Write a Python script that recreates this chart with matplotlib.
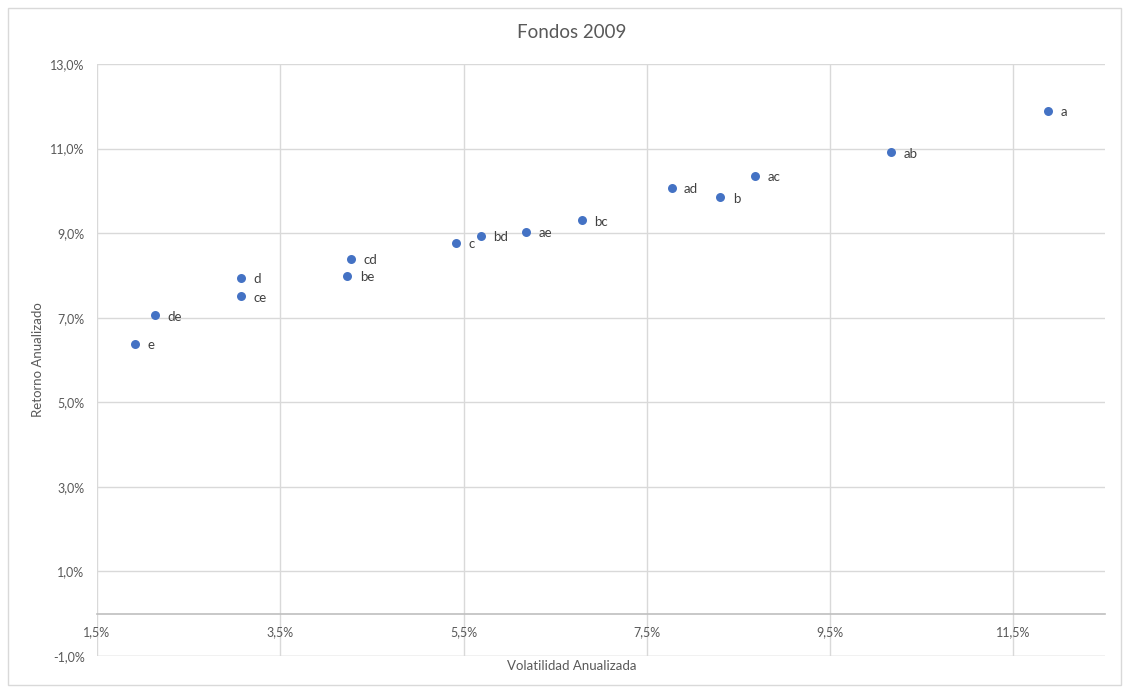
import matplotlib
matplotlib.use("Agg")
import matplotlib.pyplot as plt
from matplotlib.ticker import FuncFormatter, FixedLocator
from matplotlib.patches import Rectangle

# Fund portfolios: annualised volatility vs annualised return (%)
fondos = ["a", "ab", "ac", "ad", "b", "bc", "ae", "bd", "c", "cd", "be", "d", "ce", "de", "e"]
volatilidad = [11.88, 10.17, 8.68, 7.77, 8.30, 6.79, 6.18, 5.69, 5.42, 4.27, 4.23, 3.07, 3.07, 2.13, 1.91]
retorno = [11.90, 10.91, 10.35, 10.07, 9.85, 9.30, 9.03, 8.94, 8.77, 8.39, 7.99, 7.95, 7.51, 7.06, 6.38]

x_ticks = [1.5, 3.5, 5.5, 7.5, 9.5, 11.5]
y_ticks = [-1, 1, 3, 5, 7, 9, 11, 13]

plt.rcParams["font.family"] = ["Lato", "DejaVu Sans"]

W, H = 1129, 692
fig = plt.figure(figsize=(W / 100, H / 100), dpi=100)
ax = fig.add_axes([97 / W, 1 - 656 / H, (1105 - 97) / W, (656 - 64) / H])

# outer chart border
fig.patches.append(Rectangle((8 / W, 7 / H), (1121 - 8) / W, (685 - 8) / H,
                             transform=fig.transFigure, fill=False,
                             edgecolor="#d9d9d9", linewidth=1.0))

ax.scatter(volatilidad, retorno, s=42, color="#4472C4", zorder=3, linewidths=0)
for name, xv, yv in zip(fondos, volatilidad, retorno):
    ax.annotate(name, (xv, yv), xytext=(9, -1), textcoords="offset points",
                fontsize=9.5, color="#404040", va="center", ha="left")

ax.set_xlim(1.5, 12.5)
ax.set_ylim(-1, 13)
ax.xaxis.set_major_locator(FixedLocator(x_ticks))
ax.yaxis.set_major_locator(FixedLocator(y_ticks))
ax.xaxis.set_major_formatter(FuncFormatter(lambda v, p: f"{v:.1f}%".replace(".", ",")))
ax.yaxis.set_major_formatter(FuncFormatter(lambda v, p: f"{v:.1f}%".replace(".", ",")))

ax.grid(True, color="#d9d9d9", linewidth=1.0)
ax.set_axisbelow(True)
for s in ["top", "right", "left"]:
    ax.spines[s].set_visible(False)
ax.spines["bottom"].set_position(("data", 0))
ax.spines["bottom"].set_color("#bfbfbf")
ax.spines["bottom"].set_linewidth(1.2)
ax.axhline(-1, color="#d9d9d9", linewidth=1.0, zorder=0)

ax.tick_params(axis="both", length=0, labelsize=9, labelcolor="#595959")
ax.tick_params(axis="x", pad=9)
ax.tick_params(axis="y", pad=9)

fig.text(572 / W, 1 - 33 / H, "Fondos 2009", ha="center", va="center",
         fontsize=13.5, color="#595959")
fig.text(572 / W, 1 - 666 / H, "Volatilidad Anualizada", ha="center", va="center",
         fontsize=9.5, color="#595959")
fig.text(38 / W, 1 - 360 / H, "Retorno Anualizado", ha="center", va="center",
         rotation=90, fontsize=9.5, color="#595959")

fig.savefig("out.png", dpi=100, facecolor="white")
